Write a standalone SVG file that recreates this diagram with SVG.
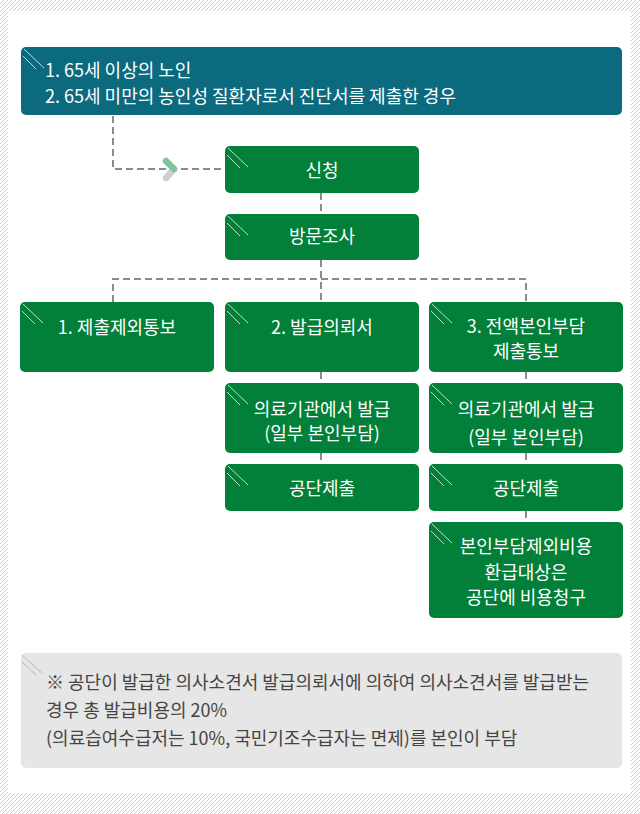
<svg xmlns="http://www.w3.org/2000/svg" width="640" height="814" viewBox="0 0 640 814">
<defs>
<pattern id="hatch" patternUnits="userSpaceOnUse" width="4" height="4">
<path d="M-1,1 L1,-1 M0,4 L4,0 M3,5 L5,3" stroke="#cccccc" stroke-width="1"/>
</pattern>
<g id="stripes">
<path d="M3,2 L23,21 M2,9 L15,22" stroke="#ffffff" stroke-opacity="0.75" stroke-width="1" fill="none"/>
</g>
</defs>
<style>
.box{fill:#027f38;}
.lbl{font-family:"Noto Sans CJK KR","Noto Sans",sans-serif;font-size:18px;fill:#ffffff;text-anchor:middle;}
.lft{font-family:"Noto Sans CJK KR","Noto Sans",sans-serif;font-size:18px;fill:#ffffff;}
.note{font-family:"Noto Sans CJK KR","Noto Sans",sans-serif;font-size:18px;fill:#444444;}
.dash{stroke:#8a8a8a;stroke-width:2;stroke-dasharray:7,4;fill:none;}
</style>
<rect x="0" y="0" width="640" height="814" fill="url(#hatch)"/>
<rect x="8" y="11" width="623" height="782" fill="#ffffff"/>

<g id="connectors">
<path class="dash" d="M113,116 V169 H225"/>
<path d="M174,169 L166,178" stroke="#cfcfcf" stroke-width="6.5" stroke-linecap="round"/>
<path d="M166,161 L174,169" stroke="#7dc59b" stroke-width="6.5" stroke-linecap="round"/>
<path class="dash" d="M321,193 V214"/>
<path class="dash" d="M321,260 V302"/>
<path class="dash" d="M113,302 V279 H526 V302"/>
<path class="dash" d="M321,372 V383"/>
<path class="dash" d="M321,453 V464"/>
<path class="dash" d="M526,372 V383"/>
<path class="dash" d="M526,453 V464"/>
<path class="dash" d="M526,511 V522"/>
</g>

<g id="n-top">
<rect x="21" y="47" width="601" height="68" rx="5" fill="#0c6a7f"/>
<use href="#stripes" x="21" y="47"/>
<text class="lft" x="45" y="77">1. 65세 이상의 노인</text>
<text class="lft" x="45" y="103">2. 65세 미만의 농인성 질환자로서 진단서를 제출한 경우</text>
</g>

<g id="n-apply">
<rect class="box" x="225" y="146" width="194" height="47" rx="5"/>
<use href="#stripes" x="225" y="146"/>
<text class="lbl" x="322" y="177">신청</text>
</g>

<g id="n-visit">
<rect class="box" x="225" y="214" width="194" height="46" rx="5"/>
<use href="#stripes" x="225" y="214"/>
<text class="lbl" x="322" y="243">방문조사</text>
</g>

<g id="n-1">
<rect class="box" x="20" y="302" width="194" height="70" rx="5"/>
<use href="#stripes" x="20" y="302"/>
<text class="lbl" x="117" y="334">1. 제출제외통보</text>
</g>

<g id="n-2">
<rect class="box" x="225" y="302" width="194" height="70" rx="5"/>
<use href="#stripes" x="225" y="302"/>
<text class="lbl" x="322" y="334">2. 발급의뢰서</text>
</g>

<g id="n-3">
<rect class="box" x="429" y="302" width="194" height="70" rx="5"/>
<use href="#stripes" x="429" y="302"/>
<text class="lbl" x="526" y="333">3. 전액본인부담</text>
<text class="lbl" x="526" y="358">제출통보</text>
</g>

<g id="n-2a">
<rect class="box" x="225" y="383" width="194" height="70" rx="5"/>
<use href="#stripes" x="225" y="383"/>
<text class="lbl" x="322" y="416">의료기관에서 발급</text>
<text class="lbl" x="322" y="440">(일부 본인부담)</text>
</g>

<g id="n-2b">
<rect class="box" x="225" y="464" width="194" height="47" rx="5"/>
<use href="#stripes" x="225" y="464"/>
<text class="lbl" x="322" y="495">공단제출</text>
</g>

<g id="n-3a">
<rect class="box" x="429" y="383" width="194" height="70" rx="5"/>
<use href="#stripes" x="429" y="383"/>
<text class="lbl" x="526" y="416">의료기관에서 발급</text>
<text class="lbl" x="526" y="444">(일부 본인부담)</text>
</g>

<g id="n-3b">
<rect class="box" x="429" y="464" width="194" height="47" rx="5"/>
<use href="#stripes" x="429" y="464"/>
<text class="lbl" x="526" y="495">공단제출</text>
</g>

<g id="n-3c">
<rect class="box" x="429" y="522" width="194" height="96" rx="5"/>
<use href="#stripes" x="429" y="522"/>
<text class="lbl" x="526" y="553">본인부담제외비용</text>
<text class="lbl" x="526" y="579">환급대상은</text>
<text class="lbl" x="526" y="604">공단에 비용청구</text>
</g>

<g id="n-note">
<rect x="21" y="653" width="601" height="115" rx="5" fill="#e6e6e6"/>
<path d="M22,655 L43,674 M22,662 L36,675" stroke="#b5b5b5" stroke-width="1" fill="none"/>
<text class="note" x="46" y="689">※ 공단이 발급한 의사소견서 발급의뢰서에 의하여 의사소견서를 발급받는</text>
<text class="note" x="46" y="717">경우 총 발급비용의 20%</text>
<text class="note" x="46" y="745">(의료습여수급저는 10%, 국민기조수급자는 면제)를 본인이 부담</text>
</g>
</svg>
